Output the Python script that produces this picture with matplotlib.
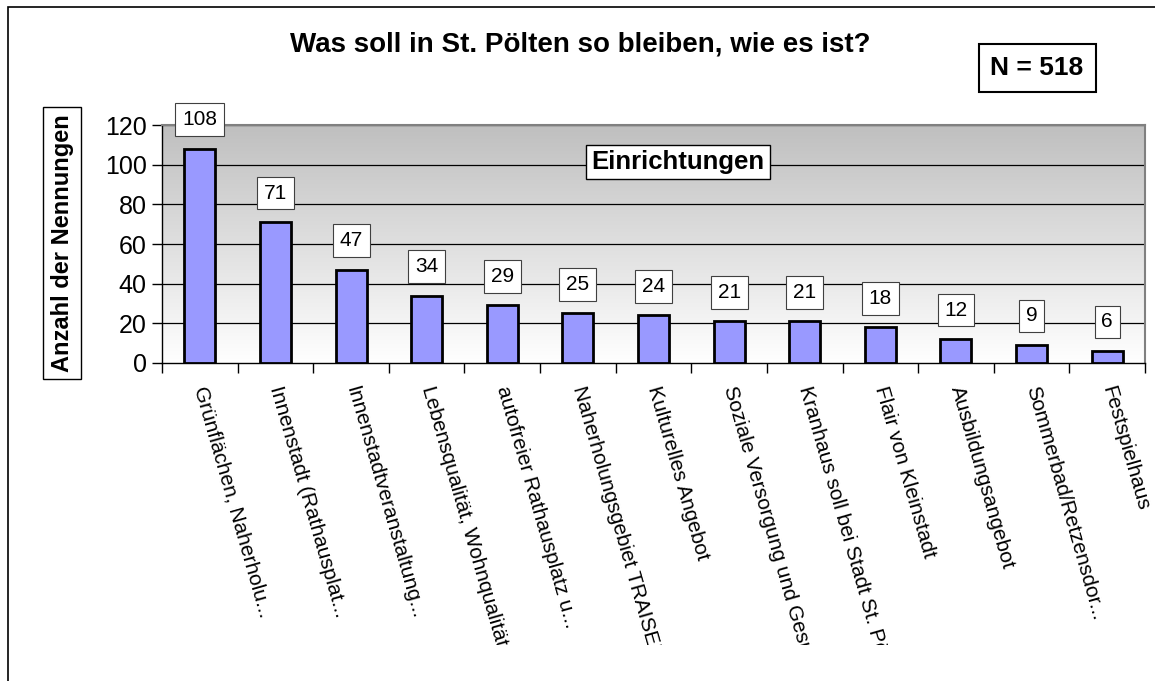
import numpy as np
import matplotlib
matplotlib.use("Agg")
import matplotlib.pyplot as plt
from matplotlib.patches import Rectangle
from matplotlib.transforms import Bbox

plt.rcParams['font.family'] = ['Liberation Sans', 'DejaVu Sans']

categories = ["Grünflächen, Naherholu...", "Innenstadt (Rathausplat...",
              "Innenstadtveranstaltung...", "Lebensqualität, Wohnqualität",
              "autofreier Rathausplatz u...", "Naherholungsgebiet TRAISEN",
              "Kulturelles Angebot", "Soziale Versorgung und Gesundheit",
              "Kranhaus soll bei Stadt St. Pölten", "Flair von Kleinstadt",
              "Ausbildungsangebot", "Sommerbad/Retzensdor...", "Festspielhaus"]
values = [108, 71, 47, 34, 29, 25, 24, 21, 21, 18, 12, 9, 6]
yticks = [0, 20, 40, 60, 80, 100, 120]

W, H = 1155, 681
fig = plt.figure(figsize=(W / 100, H / 100), dpi=100)
fig.patch.set_facecolor('white')

# outer chart border (only top/left visible)
fig.add_artist(Rectangle((8 / W, -0.1), 1.2, 1 - 7 / H + 0.1, transform=fig.transFigure,
                         fill=False, edgecolor='black', linewidth=1.2))

ax = fig.add_axes([162 / W, 1 - 363 / H, (1145 - 162) / W, (363 - 125) / H])
x = np.arange(len(values))
ax.set_xlim(-0.5, len(values) - 0.5)
ax.set_ylim(0, 120)

# gradient background
grad = np.linspace(0.75, 1.0, 256).reshape(-1, 1)
ax.imshow(np.dstack([grad, grad, grad]), extent=[0, 1, 0, 1], transform=ax.transAxes,
          aspect='auto', origin='upper', zorder=0)

ax.set_yticks(yticks)
for t in yticks[1:]:
    ax.axhline(t, color='black', linewidth=0.9, zorder=1)

ax.bar(x, values, width=0.41, color='#9999FF', edgecolor='black', linewidth=2, zorder=3)

for xi, v in zip(x, values):
    ax.annotate(str(v), (xi, v), xytext=(0, 21), textcoords='offset points',
                ha='center', va='center', fontsize=15, annotation_clip=False, zorder=5,
                bbox=dict(boxstyle='square,pad=0.33', facecolor='white',
                          edgecolor='#404040', linewidth=0.8))

for side in ['top', 'right']:
    ax.spines[side].set_color('#808080')
    ax.spines[side].set_linewidth(1.5)
for side in ['left', 'bottom']:
    ax.spines[side].set_color('black')
    ax.spines[side].set_linewidth(1.0)

ax.tick_params(axis='y', labelsize=18, length=7, width=1, direction='out', pad=4)
ax.set_xticks(x)
ax.set_xticklabels(categories, rotation=-74, rotation_mode='anchor', ha='left', va='center',
                   fontsize=15)
ax.tick_params(axis='x', which='major', length=0, pad=17)
ax.set_xticks(np.arange(-0.5, len(values), 1), minor=True)
ax.tick_params(axis='x', which='minor', length=7, width=1, direction='out')

clip = Bbox.from_extents(0, H - 645, W, H)
for lbl in ax.get_xticklabels():
    lbl.set_clip_on(True)
    lbl.set_clip_box(clip)

fig.text(580 / W, 1 - 45 / H, "Was soll in St. Pölten so bleiben, wie es ist?",
         ha='center', va='center', fontsize=20, fontweight='bold')
fig.text(1037 / W, 1 - 68 / H, "N = 518", ha='center', va='center', fontsize=19,
         fontweight='bold',
         bbox=dict(boxstyle='square,pad=0.45', facecolor='white', edgecolor='black', linewidth=1.5))
fig.text(678 / W, 1 - 162 / H, "Einrichtungen", ha='center', va='center', fontsize=18.5,
         fontweight='bold',
         bbox=dict(boxstyle='square,pad=0.2', facecolor='white', edgecolor='black', linewidth=1))
fig.text(62 / W, 1 - 243 / H, "Anzahl der Nennungen", ha='center', va='center', fontsize=17,
         fontweight='bold', rotation=90,
         bbox=dict(boxstyle='square,pad=0.3', facecolor='white', edgecolor='black', linewidth=1))

fig.savefig('out.png', dpi=100)
